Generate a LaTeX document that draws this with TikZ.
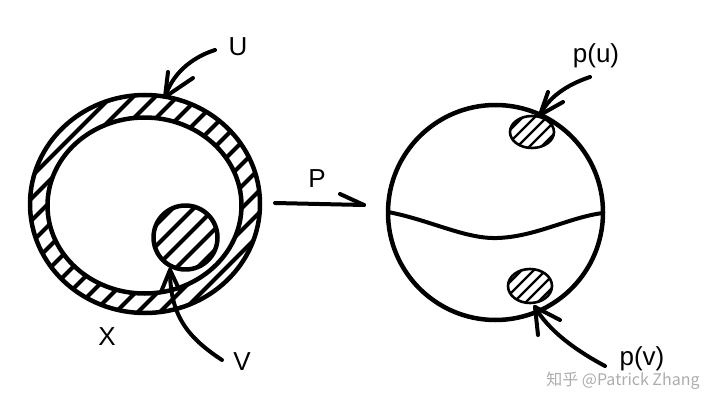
\documentclass[tikz,border=0pt]{standalone}
\usepackage{fontspec}
\setmainfont{Liberation Sans}
\newfontfamily\cjkfont{Noto Sans CJK SC}
\begin{document}
\begin{tikzpicture}[x=1pt,y=-1pt,line cap=round,line join=round,
  outline/.style={line width=4.5pt},
  thin outline/.style={line width=2.6pt},
  hatchline/.style={line width=4pt},
  finehatch/.style={line width=2.4pt},
  pen/.style={line width=4pt},
  lbl/.style={font=\fontsize{26}{26}\selectfont,inner sep=0pt},
  wmark/.style={font=\cjkfont\fontsize{16}{16}\selectfont,text=black!32,inner sep=0pt}]
\useasboundingbox (0,0) rectangle (720,409);
\fill[white] (0,0) rectangle (720,409);

% ---------- left space X with U (ring) and V ----------
\begin{scope}
  \clip (145,204) ellipse [x radius=115, y radius=109];
  \foreach \k in {-11,...,12} \draw[hatchline] (\k*22,340) -- ++(320,-320);
\end{scope}
\fill[white] (144.5,205.5) ellipse [x radius=97, y radius=88];
\draw[outline] (145,204) ellipse [x radius=115, y radius=109];
\draw[outline] (144.5,205.5) ellipse [x radius=97, y radius=88];

\begin{scope}
  \clip (185.5,237.5) circle [radius=32];
  \foreach \k in {-3,...,3} \draw[hatchline] (185.5+\k*21-60,237.5+60) -- ++(120,-120);
\end{scope}
\draw[outline] (185.5,237.5) circle [radius=32];

% ---------- right space ----------
\draw[outline] (495.5,212.5) circle [radius=107.5];
\draw[pen] (388,212) .. controls (430,220) and (465,239) .. (497,238)
                    .. controls (535,237) and (570,217) .. (603,213);

\begin{scope}
  \clip (532,132) ellipse [x radius=22, y radius=16];
  \foreach \k in {-3,...,3} \draw[finehatch] (532+\k*12-40,132+40) -- ++(80,-80);
\end{scope}
\draw[thin outline] (532,132) ellipse [x radius=22, y radius=16];
\begin{scope}
  \clip (530,286) ellipse [x radius=22, y radius=17];
  \foreach \k in {-3,...,3} \draw[finehatch] (530+\k*12-40,286+40) -- ++(80,-80);
\end{scope}
\draw[thin outline] (530,286) ellipse [x radius=22, y radius=17];

% ---------- labels ----------
\node[lbl] (U) at (238,47) {U};
\node[lbl] (P) at (317,179) {P};
\node[lbl] (X) at (107,337) {X};
\node[lbl] (V) at (242,362) {V};
\node[lbl] (pu) at (596,56) {p(u)};
\node[lbl] (pv) at (642,359) {p(v)};
\node[wmark] (wm) at (623,381) {知乎 @Patrick Zhang};

% ---------- arrows ----------
\coordinate (Ut) at (215,50);   \coordinate (Uh) at (165,97);
\draw[pen] (Ut) .. controls (190,58) and (172,75) .. (Uh);
\draw[pen] (Uh) -- ++(3,-25);
\draw[pen] (Uh) -- ++(28,-19);

\coordinate (Vt) at (222,360);  \coordinate (Vh) at (170,270);
\draw[pen] (Vt) .. controls (187,337) and (170,315) .. (Vh);
\draw[pen] (Vh) -- ++(-9,22);
\draw[pen] (Vh) -- ++(9,19);

\coordinate (Pt) at (275,203);  \coordinate (Ph) at (364,205);
\draw[pen] (Pt) -- (Ph);
\draw[pen] (Ph) -- ++(-24,-11);

\coordinate (put) at (590,77);  \coordinate (puh) at (540,115);
\draw[pen] (put) .. controls (566,85) and (548,98) .. (puh);
\draw[pen] (puh) -- ++(8,-23);
\draw[pen] (puh) -- ++(23,-13);

\coordinate (pvt) at (605,366); \coordinate (pvh) at (535,307);
\draw[pen] (pvt) .. controls (575,350) and (548,330) .. (pvh);
\draw[pen] (pvh) -- ++(3,28);
\draw[pen] (pvh) -- ++(25,13);
\end{tikzpicture}
\end{document}
